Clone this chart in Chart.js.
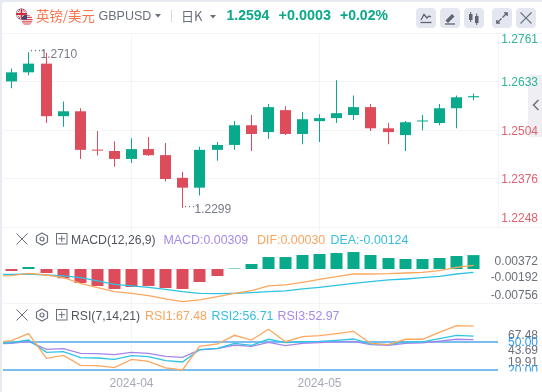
<!DOCTYPE html>
<html lang="zh">
<head>
<meta charset="utf-8">
<title>GBPUSD</title>
<script src="https://cdn.jsdelivr.net/npm/chart.js@4/dist/chart.umd.min.js"></script>
<style>
html,body{margin:0;padding:0;width:542px;height:392px;overflow:hidden;background:#e7eaf1;font-family:"Liberation Sans",Arial,sans-serif}
#panel{position:absolute;left:2px;top:2px;width:540px;height:390px;background:#fff;border-top-left-radius:3px}
.t{position:absolute;white-space:nowrap;line-height:16px;transform:translateY(-50%)}
.rule{position:absolute;left:3px;width:539px;height:1px;background:#f3f4f7}
#tab{position:absolute;left:528px;top:75px;width:14px;height:62px;background:#eeeef3;border-radius:3px 0 0 3px}
canvas{position:absolute;left:0;top:0}
.btn{position:absolute;top:8px;width:20px;height:20px;border-radius:4px;background:#e4e7ef}
svg{position:absolute;overflow:visible}
</style>
</head>
<body>
<div id="panel"></div>
<div class="rule" style="top:33px"></div>
<div class="rule" style="top:227px"></div>
<div class="rule" style="top:303px"></div>
<div id="tab"></div>
<svg style="left:532px;top:99px" width="8" height="12" viewBox="0 0 8 12"><path d="M6.5 1 L1.5 6 L6.5 11" fill="none" stroke="#70747f" stroke-width="1.6"/></svg>
<canvas id="c" width="542" height="392"></canvas>

<svg style="left:14px;top:7px" width="20" height="20" viewBox="0 0 20 20">
<defs>
<clipPath id="uk"><circle cx="7.5" cy="7" r="5.5"/></clipPath>
<clipPath id="us"><circle cx="13" cy="13" r="5.5"/></clipPath>
</defs>
<g clip-path="url(#uk)">
<rect x="1" y="1" width="13" height="12" fill="#25305f"/>
<path d="M1 1 L14 13 M14 1 L1 13" stroke="#fff" stroke-width="2.4"/>
<path d="M1 1 L14 13 M14 1 L1 13" stroke="#cf2b3c" stroke-width="1"/>
<path d="M7.5 0 V14 M0 7 H15" stroke="#fff" stroke-width="3.4"/>
<path d="M7.5 0 V14 M0 7 H15" stroke="#cf2b3c" stroke-width="1.8"/>
</g>
<g clip-path="url(#us)">
<rect x="7" y="7" width="13" height="13" fill="#fff"/>
<path d="M7 8.2 H20 M7 10.4 H20 M7 12.6 H20 M7 14.8 H20 M7 17 H20" stroke="#d9404f" stroke-width="1.2"/>
<rect x="7" y="7" width="6" height="5.5" fill="#3c4a78"/>
</g>
</svg>
<div class="t" style="left:36px;top:15px;font:13.4px 'Noto Sans CJK SC';color:#f9734a">英镑/美元</div>
<div class="t" style="left:98.5px;top:16px;font-size:12.5px;color:#6a6f7c">GBPUSD</div>
<svg style="left:155px;top:14px" width="6" height="4"><path d="M0 0 H6 L3 3.5 Z" fill="#6a6f7c"/></svg>
<div style="position:absolute;left:171px;top:10px;width:1px;height:12px;background:#d5d8e0"></div>
<div class="t" style="left:181px;top:15px;font:13px 'Noto Sans CJK SC';color:#6a6f7c">日K</div>
<svg style="left:210px;top:15px" width="6" height="4"><path d="M0 0 H6 L3 3.5 Z" fill="#6a6f7c"/></svg>
<div class="t" style="left:226.5px;top:15px;font-size:14px;font-weight:bold;color:#0ba88a">1.2594</div>
<div class="t" style="left:278.5px;top:15px;font-size:14.4px;font-weight:bold;color:#0ba88a">+0.0003</div>
<div class="t" style="left:340px;top:15px;font-size:14px;font-weight:bold;color:#0ba88a">+0.02%</div>

<div class="btn" style="left:416px"></div>
<div class="btn" style="left:440px"></div>
<div class="btn" style="left:464px"></div>
<div class="btn" style="left:492px"></div>
<div class="btn" style="left:516px"></div>
<svg style="left:416px;top:8px" width="20" height="20"><path d="M5 12 L8 6.5 L11 10 L13 8 L15 9" fill="none" stroke="#5f6470" stroke-width="1.3"/><path d="M4.5 14.5 H15.5" stroke="#5f6470" stroke-width="1.3"/></svg>
<svg style="left:440px;top:8px" width="20" height="20"><path d="M5.5 12.5 L12 6 L14.5 8.5 L8 15 Z" fill="#5f6470"/><path d="M5 16 H15" stroke="#5f6470" stroke-width="1.3"/></svg>
<svg style="left:464px;top:8px" width="20" height="20"><rect x="5" y="6" width="3.5" height="6" fill="#5f6470"/><path d="M6.7 4 V14" stroke="#5f6470"/><rect x="11" y="8" width="3.5" height="7" fill="#5f6470"/><path d="M12.7 5.5 V17" stroke="#5f6470"/></svg>
<svg style="left:492px;top:8px" width="20" height="20"><path d="M10.5 9.5 L15 5 M12 4.8 H15.2 V8 M9.5 10.5 L5 15 M8 15.2 H4.8 V12" fill="none" stroke="#5f6470" stroke-width="1.3"/></svg>
<svg style="left:516px;top:8px" width="20" height="20"><path d="M4.5 4.5 L15.5 15.5 M15.5 4.5 L4.5 15.5" stroke="#6a6f7c" stroke-width="1.2"/></svg>

<svg style="left:16px;top:233px" width="12" height="12"><path d="M0.5 0.5 L11.5 11.5 M11.5 0.5 L0.5 11.5" stroke="#6a6f7c" stroke-width="1"/></svg>
<svg style="left:36px;top:232px" width="12" height="14"><path d="M6 1 L11.5 4 V10 L6 13 L0.5 10 V4 Z" fill="none" stroke="#6a6f7c" stroke-width="1.2"/><circle cx="6" cy="7" r="2" fill="none" stroke="#6a6f7c" stroke-width="1.2"/></svg>
<svg style="left:56px;top:233px" width="12" height="12"><rect x="0.5" y="0.5" width="10.5" height="10.5" fill="none" stroke="#6a6f7c"/><path d="M5.7 2.5 V9 M2.5 5.7 H9" stroke="#6a6f7c"/></svg>
<div class="t" style="left:71px;top:239.5px;font-size:12.2px;color:#50555f">MACD(12,26,9)</div>
<div class="t" style="left:163.5px;top:239.5px;font-size:12.4px;color:#a68ae8">MACD:0.00309</div>
<div class="t" style="left:257px;top:239.5px;font-size:12.4px;color:#f8a55e">DIF:0.00030</div>
<div class="t" style="left:330.5px;top:239.5px;font-size:12.4px;color:#35bfdf">DEA:-0.00124</div>

<svg style="left:16px;top:309px" width="12" height="12"><path d="M0.5 0.5 L11.5 11.5 M11.5 0.5 L0.5 11.5" stroke="#6a6f7c" stroke-width="1"/></svg>
<svg style="left:36px;top:308px" width="12" height="14"><path d="M6 1 L11.5 4 V10 L6 13 L0.5 10 V4 Z" fill="none" stroke="#6a6f7c" stroke-width="1.2"/><circle cx="6" cy="7" r="2" fill="none" stroke="#6a6f7c" stroke-width="1.2"/></svg>
<svg style="left:56px;top:309px" width="12" height="12"><rect x="0.5" y="0.5" width="10.5" height="10.5" fill="none" stroke="#6a6f7c"/><path d="M5.7 2.5 V9 M2.5 5.7 H9" stroke="#6a6f7c"/></svg>
<div class="t" style="left:71px;top:315.5px;font-size:12.2px;color:#50555f">RSI(7,14,21)</div>
<div class="t" style="left:145px;top:315.5px;font-size:12.4px;color:#f8a55e">RSI1:67.48</div>
<div class="t" style="left:211.5px;top:315.5px;font-size:12.4px;color:#35bfdf">RSI2:56.71</div>
<div class="t" style="left:277.5px;top:315.5px;font-size:12.4px;color:#a68ae8">RSI3:52.97</div>

<script>
// ---- data ----
const opens  = [1.2633,1.2657,1.2680,1.2541,1.2554,1.2452,1.2449,1.2428,1.2454,1.2438,1.2378,1.2352,1.2452,1.2465,1.2517,1.2499,1.2557,1.2494,1.2528,1.2536,1.2544,1.2565,1.2509,1.2491,1.2527,1.2523,1.2562,1.2591];
const closes = [1.2657,1.2680,1.2541,1.2554,1.2452,1.2450,1.2428,1.2454,1.2438,1.2375,1.2352,1.2452,1.2465,1.2517,1.2494,1.2565,1.2494,1.2533,1.2536,1.2549,1.2565,1.2509,1.2499,1.2525,1.2528,1.2562,1.2591,1.2594];
const highs  = [1.2667,1.2710,1.2709,1.2580,1.2562,1.2502,1.2475,1.2483,1.2486,1.2470,1.2394,1.2460,1.2473,1.2528,1.2544,1.2573,1.2567,1.2552,1.2546,1.2636,1.2596,1.2573,1.2523,1.2528,1.2544,1.2573,1.2596,1.2601];
const lows   = [1.2615,1.2649,1.2523,1.2513,1.2428,1.2437,1.2407,1.2417,1.2436,1.2368,1.2299,1.2331,1.2423,1.2452,1.2449,1.2481,1.2491,1.2467,1.2473,1.2523,1.2531,1.2502,1.2467,1.2449,1.2504,1.2517,1.2509,1.2583];
const macdHist = [-0.00044,0.00044,-0.00089,-0.00206,-0.00311,-0.00377,-0.00444,-0.00400,-0.00377,-0.00422,-0.00444,-0.00289,-0.00155,0.00011,0.00111,0.00266,0.00266,0.00311,0.00333,0.00355,0.00377,0.00311,0.00244,0.00222,0.00222,0.00244,0.00289,0.00309];
// the indicator lines run in from one session left of the visible window: first value is that session
const difLine  = [-0.00155,-0.00148,-0.00096,-0.00133,-0.00192,-0.00318,-0.00414,-0.00503,-0.00540,-0.00592,-0.00666,-0.00725,-0.00688,-0.00614,-0.00540,-0.00481,-0.00377,-0.00355,-0.00296,-0.00229,-0.00170,-0.00111,-0.00111,-0.00104,-0.00089,-0.00074,-0.00037,0.00037,0.00081];
const deaLine  = [-0.00118,-0.00118,-0.00111,-0.00133,-0.00155,-0.00192,-0.00266,-0.00340,-0.00377,-0.00407,-0.00451,-0.00503,-0.00540,-0.00548,-0.00540,-0.00525,-0.00503,-0.00488,-0.00444,-0.00407,-0.00363,-0.00318,-0.00281,-0.00244,-0.00222,-0.00192,-0.00163,-0.00111,-0.00074];
const rsi1 = [49.8,51.8,59.4,32.7,35.9,25.1,24.7,22.5,31.6,29.4,22.2,20.0,45.7,48.2,57.6,52.5,64.1,50.7,56.1,57.2,59.4,61.9,48.9,47.5,53.3,53.3,60.8,68.1,67.48];
const rsi2 = [48.6,49.6,52.5,39.2,39.9,33.4,33.0,31.6,35.5,34.5,30.1,28.7,42.0,43.5,48.9,46.7,53.3,49.6,50.7,51.1,52.2,53.6,48.2,47.5,50.4,50.4,54.0,57.6,56.71];
const rsi3 = [48.2,48.9,51.1,42.4,43.1,38.1,37.7,36.6,39.2,38.1,34.8,33.7,41.7,43.1,47.1,45.7,50.0,46.4,48.9,49.6,50.4,51.1,47.5,46.7,48.9,49.3,51.4,53.3,52.97];
const monthIndex  = [7,18];
const monthLabels = ['2024-04','2024-05'];
const priceTicks  = [1.2761,1.2633,1.2504,1.2376,1.2248];
const macdTicks   = [0.00372,-0.00192,-0.00756];
const rsiTicks    = [67.48,43.69,19.91];
const rsiBands    = [50,20];
const highLabel = 1.2710, lowLabel = 1.2299;

// ---- styles ----
const UP='#09a98b', DOWN='#dc4c5a', ORANGE='#fba85f', CYAN='#2fc3e3', PURPLE='#a585ea', GRID='#f3f4f7', BAND='#7cbdf0';
const isUp = i => closes[i] >= opens[i];
const candleColor = c => isUp(c.dataIndex) ? UP : DOWN;
const pts = a => a.map((y,x)=>({x,y}));
const ptsFromPrev = a => a.map((y,x)=>({x:x-1,y}));
const line = (data,color,yAxisID) => ({type:'line',data:ptsFromPrev(data),yAxisID,borderColor:color,borderWidth:1.3,pointRadius:0,tension:0,order:1});
const hideTicks = {display:false};
const fixWidth = s => { s.width = 44; };

function snapX(s){
  if(s._snap) return;
  const f = s.getPixelForValue.bind(s);
  s.getPixelForValue = v => Math.floor(f(v)) + 0.5;
  s._snap = true;
}

const labelPlugin = {
  id:'sideLabels',
  afterDraw(chart){
    const c = chart.ctx, R = 538;
    c.save();
    c.font = '12px "Liberation Sans"';
    c.textAlign = 'right';
    c.textBaseline = 'middle';
    const put = (axis,vals,fmt,col,lo,hi,dy) => vals.forEach(v=>{
      const y = chart.scales[axis].getPixelForValue(v) + dy;
      c.fillStyle = col(v);
      c.fillText(fmt(v), R, Math.min(Math.max(y,lo),hi));
    });
    put('y',priceTicks,v=>v.toFixed(4),v=>v>1.26?'#2fb39a':'#e0626e',40,219,1.5);
    put('macd',macdTicks,v=>v.toFixed(5),()=>'#6b6f7b',262,296,0.5);
    put('rsi',rsiTicks,v=>v.toFixed(2),()=>'#6b6f7b',336,363,2.5);
    c.beginPath(); c.rect(498,304,44,67.5); c.clip();
    put('rsi',rsiBands,v=>v.toFixed(2),()=>'#2f9bf0',300,380,0.5);
    c.restore();

    // highest / lowest markers on the candle pane
    c.save();
    c.font = '12px "Liberation Sans"';
    c.textBaseline = 'middle';
    c.fillStyle = '#777b87';
    const mark = (val,idx,dy) => {
      const x = chart.scales.x.getPixelForValue(idx), y = chart.scales.y.getPixelForValue(val);
      c.fillText('····', x+1, y-1.5);
      c.fillText(val.toFixed(4), x+12, y+dy);
    };
    mark(highLabel,1,2);
    mark(lowLabel,10,2);
    c.restore();
  }
};

new Chart(document.getElementById('c'),{
  type:'bar',
  plugins:[labelPlugin],
  data:{datasets:[
    {data:opens.map((_,x)=>({x,y:[lows[x],highs[x]]})),yAxisID:'y',grouped:false,barThickness:1,minBarLength:1,backgroundColor:candleColor,inflateAmount:0,order:3},
    {data:opens.map((o,x)=>({x,y:[o,closes[x]]})),yAxisID:'y',grouped:false,barThickness:11,minBarLength:1,backgroundColor:candleColor,inflateAmount:0,order:2},
    {data:pts(macdHist),yAxisID:'macd',grouped:false,barThickness:12,backgroundColor:c=>macdHist[c.dataIndex]>=0?UP:DOWN,inflateAmount:0,order:2},
    line(difLine,ORANGE,'macd'),
    line(deaLine,CYAN,'macd'),
    line(rsi1,ORANGE,'rsi'),
    line(rsi2,CYAN,'rsi'),
    line(rsi3,PURPLE,'rsi')
  ]},
  options:{
    responsive:false,animation:false,
    layout:{padding:{left:3,top:33,right:0,bottom:0}},
    plugins:{legend:{display:false},tooltip:{enabled:false},title:{display:false}},
    scales:{
      x:{type:'linear',position:'bottom',offset:false,min:-0.515,max:28.43,
        grid:{offset:false,color:GRID,drawTicks:false},border:{display:false},
        ticks:{autoSkip:false,maxRotation:0,padding:5,color:'#a6aab6',font:{size:12,family:'"Liberation Sans"'},
          callback:v=>monthLabels[monthIndex.indexOf(v)]},
        beforeBuildTicks:snapX,
        afterBuildTicks:s=>{s.ticks=monthIndex.map(value=>({value}));},
        afterFit:s=>{s.height=21;}
      },
      y:{type:'linear',position:'right',stack:'panes',stackWeight:194,weight:1,min:1.2248,max:1.2761,
        grid:{color:GRID,drawTicks:false},border:{display:true,color:GRID},ticks:hideTicks,
        afterBuildTicks:s=>{s.ticks=priceTicks.map(value=>({value}));},afterFit:fixWidth},
      macd:{type:'linear',position:'right',stack:'panes',stackWeight:76,weight:1,min:-0.00756,max:0.00934,
        grid:{display:false},border:{display:false},ticks:hideTicks,afterFit:fixWidth},
      rsi:{type:'linear',position:'right',stack:'panes',stackWeight:68,weight:1,min:18.92,max:92.6,
        grid:{color:BAND,lineWidth:2,drawTicks:false},border:{display:false},ticks:hideTicks,
        afterBuildTicks:s=>{s.ticks=rsiBands.map(value=>({value}));},afterFit:fixWidth}
    }
  }
});
</script>
</body>
</html>
